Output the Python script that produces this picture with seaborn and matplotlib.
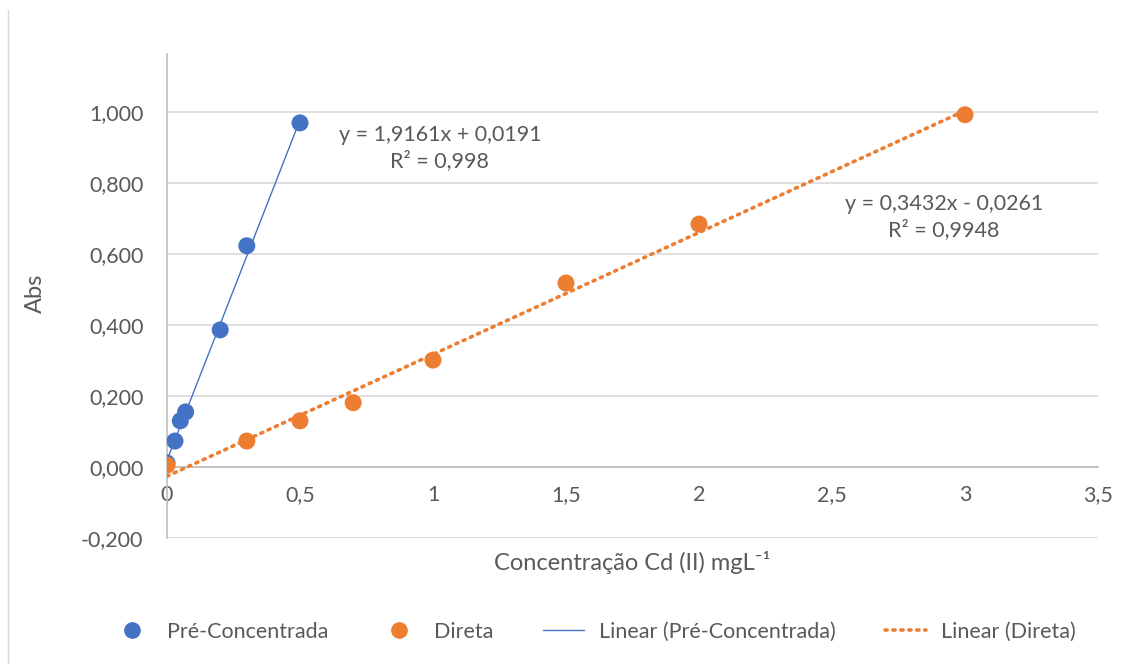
import matplotlib
matplotlib.use("Agg")
import matplotlib.pyplot as plt
from matplotlib.lines import Line2D
import numpy as np
import pandas as pd
import seaborn as sns

# data
pre_x = [0.0, 0.03, 0.05, 0.07, 0.2, 0.3, 0.5]
pre_y = [0.011, 0.073, 0.130, 0.155, 0.386, 0.623, 0.969]
dir_x = [0.0, 0.3, 0.5, 0.7, 1.0, 1.5, 2.0, 3.0]
dir_y = [0.005, 0.073, 0.130, 0.181, 0.301, 0.518, 0.684, 0.992]

# trendline coefficients printed on the chart
pre_fit = (1.9161, 0.0191)
dir_fit = (0.3432, -0.0261)
pre_eq = "y = 1,9161x + 0,0191\nR² = 0,998"
dir_eq = "y = 0,3432x - 0,0261\nR² = 0,9948"

y_ticks = [-0.2, 0.0, 0.2, 0.4, 0.6, 0.8, 1.0]
y_labels = ["-0,200", "0,000", "0,200", "0,400", "0,600", "0,800", "1,000"]
x_ticks = [0, 0.5, 1, 1.5, 2, 2.5, 3, 3.5]
x_labels = ["0", "0,5", "1", "1,5", "2", "2,5", "3", "3,5"]

BLUE = "#4472C4"
ORANGE = "#ED7D31"
TXT = "#595959"

sns.set_style("white")
plt.rcParams["font.family"] = ["Lato", "DejaVu Sans"]

df = pd.concat([
    pd.DataFrame({"x": pre_x, "y": pre_y, "serie": "Pré-Concentrada"}),
    pd.DataFrame({"x": dir_x, "y": dir_y, "serie": "Direta"}),
])

fig = plt.figure(figsize=(11.35, 6.64), dpi=100)
ax = fig.add_axes([167 / 1135, 1 - 538 / 664, (1098 - 167) / 1135, (538 - 54) / 664])

# trendlines
xp = np.array([min(pre_x), max(pre_x)])
xd = np.array([min(dir_x), max(dir_x)])
tl = pd.DataFrame({"x": xp, "y": pre_fit[0] * xp + pre_fit[1]})
td = pd.DataFrame({"x": xd, "y": dir_fit[0] * xd + dir_fit[1]})
sns.lineplot(data=tl, x="x", y="y", ax=ax, color=BLUE, lw=1, zorder=3)
sns.lineplot(data=td, x="x", y="y", ax=ax, color=ORANGE, lw=2.6,
             linestyle=(0, (0.6, 1.6)), dash_capstyle="round", zorder=3)

sns.scatterplot(data=df, x="x", y="y", hue="serie", ax=ax,
                palette={"Pré-Concentrada": BLUE, "Direta": ORANGE},
                s=150, edgecolor="none", legend=False, zorder=4)

ax.set_xlim(0, 3.5)
ax.set_ylim(-0.2, 1.163)
ax.set_yticks(y_ticks)
ax.set_yticklabels(y_labels)
ax.set_xticks(x_ticks)
ax.set_xticklabels(x_labels)
ax.tick_params(axis="y", length=0, pad=17, labelsize=15.5, labelcolor=TXT)
ax.tick_params(axis="x", length=0, pad=13, labelsize=15.5, labelcolor=TXT)
ax.set_xlabel("")
ax.set_ylabel("")

ax.grid(axis="y", color="#d9d9d9", lw=1.2)
ax.grid(axis="x", visible=False)
for s in ["top", "right"]:
    ax.spines[s].set_visible(False)
ax.spines["bottom"].set_position(("data", 0))
ax.spines["bottom"].set_color("#bfbfbf")
ax.spines["bottom"].set_linewidth(1.2)
ax.spines["left"].set_color("#bfbfbf")
ax.spines["left"].set_linewidth(1.2)
ax.spines["bottom"].set_zorder(1)

ax.text(1.026, 0.897, pre_eq, ha="center", va="center", fontsize=15.5,
        color=TXT, linespacing=1.3)
ax.text(2.92, 0.704, dir_eq, ha="center", va="center", fontsize=15.5,
        color=TXT, linespacing=1.3)

fig.text(632 / 1135, 1 - 562 / 664, "Concentração Cd (II) mgL⁻¹",
         ha="center", va="center", fontsize=17, color=TXT)
fig.text(35 / 1135, 1 - 293 / 664, "Abs", ha="center", va="center",
         rotation=90, fontsize=17, color=TXT)

handles = [
    Line2D([], [], marker="o", ls="none", color=BLUE, markersize=11),
    Line2D([], [], marker="o", ls="none", color=ORANGE, markersize=11),
    Line2D([], [], color=BLUE, lw=1),
    Line2D([], [], color=ORANGE, lw=2.6, ls=(0, (0.6, 1.6)), dash_capstyle="round"),
]
labels = ["Pré-Concentrada", "Direta", "Linear (Pré-Concentrada)", "Linear (Direta)"]
leg = fig.legend(handles, labels, loc="center", bbox_to_anchor=(0.523, 1 - 632 / 664),
                 ncol=4, frameon=False, fontsize=15.5, handlelength=1.9,
                 columnspacing=2.3, handletextpad=0.7)
for t in leg.get_texts():
    t.set_color(TXT)

# chart area border on the left
fig.add_artist(Line2D([8 / 1135, 8 / 1135], [0, 1 - 10 / 664],
                      transform=fig.transFigure, color="#d9d9d9", lw=1))

fig.savefig("out.png", dpi=100, facecolor="white")
